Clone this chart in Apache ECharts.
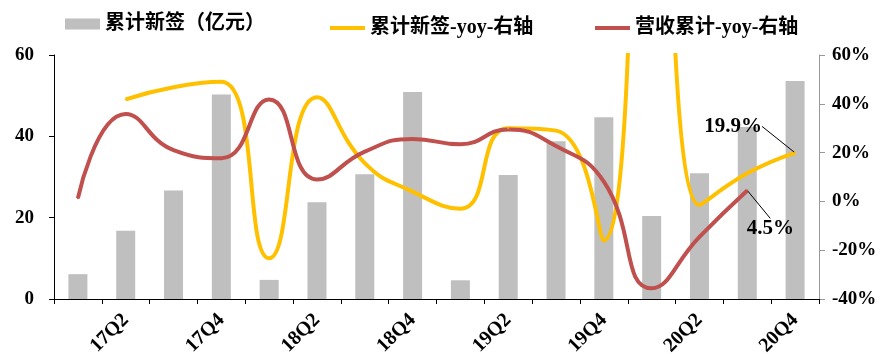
<!DOCTYPE html>
<html>
<head>
<meta charset="utf-8">
<script src="https://cdn.jsdelivr.net/npm/echarts@6/dist/echarts.min.js"></script>
<style>html,body{margin:0;padding:0;background:#fff}#c{width:891px;height:354px}</style>
</head>
<body>
<div id="c"></div>
<script>
const categories = ['17Q1','17Q2','17Q3','17Q4','18Q1','18Q2','18Q3','18Q4','19Q1','19Q2','19Q3','19Q4','20Q1','20Q2','20Q3','20Q4'];
const signedCum = [6.1, 16.8, 26.7, 50.3, 4.7, 23.8, 30.7, 50.9, 4.6, 30.5, 38.8, 44.7, 20.4, 30.9, 42.3, 53.6];
const signedYoy = [null, 41.8, 46.8, 49, -23.3, 42.7, 15.7, 4, -3, 30, 29, -16, 350, -1.5, 11.5, 19.9];
const revenueYoy = [1.3, 35.8, 21, 17.7, 41.8, 9, 20.4, 25.6, 23.4, 29.5, 22.7, 8.1, -35.6, -14.5, 4.5, null];
const leftTicks = {min: 0, max: 60, interval: 20};
const rightTicks = {min: -40, max: 60, interval: 20};
const names = ['累计新签（亿元）', '累计新签-yoy-右轴', '营收累计-yoy-右轴'];

const serif = '"Liberation Serif", "Times New Roman", serif';
const legendFont = '"Liberation Serif", "Noto Sans CJK SC", serif';
const chart = echarts.init(document.getElementById('c'));

const yoyItems = signedYoy.map((v, i) => i === signedYoy.length - 1
  ? {value: v, label: {show: true, formatter: '19.9%'}, labelLine: {show: true}} : v);
const revLast = revenueYoy.reduce((a, v, i) => v != null ? i : a, 0);
const revItems = revenueYoy.map((v, i) => i === revLast
  ? {value: v, label: {show: true, position: 'bottom', formatter: '4.5%'}, labelLine: {show: true}} : v);

const legendText = {fontFamily: legendFont, fontWeight: 'bold', fontSize: 20, color: '#000'};
chart.setOption({
  animation: false,
  legend: [
    {data: [names[0]], left: 65, top: 14, icon: 'rect', itemWidth: 35, itemHeight: 11, itemGap: 4, textStyle: legendText, padding: 0},
    {data: [names[1]], left: 330, top: 14, icon: 'rect', itemWidth: 35, itemHeight: 4, textStyle: legendText, padding: [4,0,0,0]},
    {data: [names[2]], left: 595, top: 14, icon: 'rect', itemWidth: 35, itemHeight: 4, textStyle: legendText, padding: [4,0,0,0]}
  ],
  grid: {left: 54, right: 72, top: 55, bottom: 55, outerBoundsMode: 'none', containLabel: false},
  xAxis: {
    type: 'category', data: categories, boundaryGap: true,
    axisLine: {lineStyle: {color: '#000', width: 1}},
    axisTick: {show: true, interval: 0, length: 5, lineStyle: {color: '#000'}},
    axisLabel: {interval: (i) => i % 2 === 1, rotate: 45, margin: 18, fontFamily: serif, fontWeight: 'bold', fontSize: 20, color: '#000'}
  },
  yAxis: [
    {type: 'value', min: leftTicks.min, max: leftTicks.max, interval: leftTicks.interval,
     splitLine: {show: false},
     axisLine: {show: true, lineStyle: {color: '#000'}},
     axisTick: {show: true, length: 5, lineStyle: {color: '#000'}},
     axisLabel: {margin: 20, fontFamily: serif, fontWeight: 'bold', fontSize: 19, color: '#000'}},
    {type: 'value', min: rightTicks.min, max: rightTicks.max, interval: rightTicks.interval,
     splitLine: {show: false},
     axisLine: {show: true, lineStyle: {color: '#999'}},
     axisTick: {show: true, length: 6, lineStyle: {color: '#999'}},
     axisLabel: {margin: 13, formatter: '{value}%', fontFamily: serif, fontWeight: 'bold', fontSize: 19, color: '#000'}}
  ],
  series: [
    {name: names[0], type: 'bar', data: signedCum, barWidth: 19, itemStyle: {color: '#BFBFBF'}},
    {name: names[1], type: 'line', yAxisIndex: 1, data: yoyItems, smooth: 0.5, symbol: 'circle', symbolSize: 2, showSymbol: true, connectNulls: false,
     lineStyle: {color: '#FFC000', width: 4}, itemStyle: {color: '#FFC000'},
     label: {fontFamily: serif, fontWeight: 'bold', fontSize: 21, color: '#000'},
     labelLine: {lineStyle: {color: '#000', width: 1}},
     labelLayout: {dx: -62, dy: -10}},
    {name: names[2], type: 'line', yAxisIndex: 1, data: revItems, smooth: 0.5, symbol: 'circle', symbolSize: 2, showSymbol: true,
     lineStyle: {color: '#C0504D', width: 4}, itemStyle: {color: '#C0504D'},
     label: {fontFamily: serif, fontWeight: 'bold', fontSize: 21, color: '#000'},
     labelLine: {lineStyle: {color: '#000', width: 1}},
     labelLayout: {dx: 23, dy: 22}}
  ]
});
</script>
</body>
</html>
